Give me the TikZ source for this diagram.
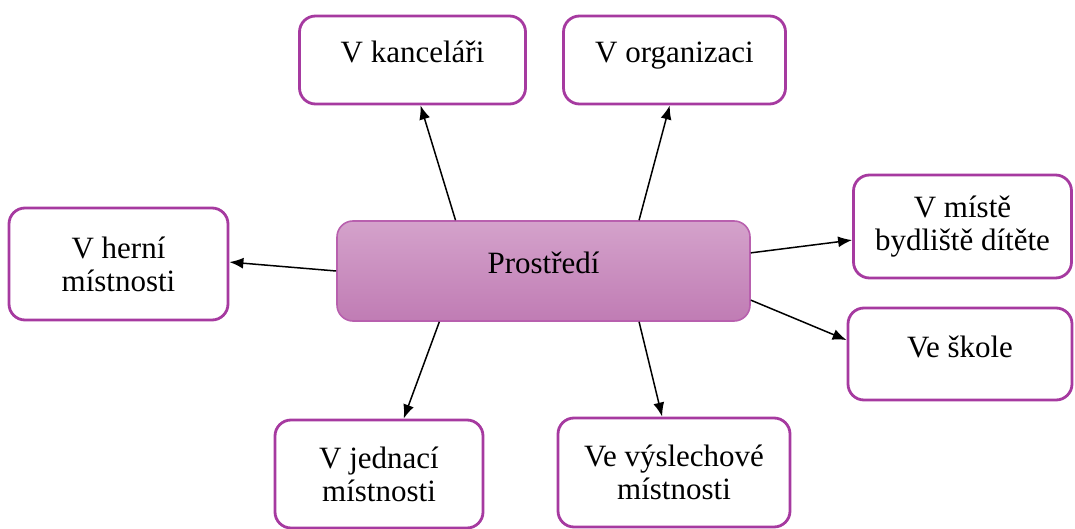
\documentclass[tikz,border=0pt]{standalone}
\usepackage{fontspec}
\setmainfont{Liberation Serif}
\usetikzlibrary{arrows.meta}
\definecolor{boxline}{RGB}{166,58,160}
\definecolor{midline}{RGB}{184,96,174}
\definecolor{midtop}{RGB}{212,162,203}
\definecolor{midbot}{RGB}{192,124,180}
\tikzset{
    place/.style={draw=boxline, line width=1.4pt, fill=white, rounded corners=8pt,
        align=center, inner sep=2pt, font=\fontsize{15.5}{16.5}\selectfont},
    oneline/.style={text height=11pt, text depth=8pt},
    core/.style={draw=midline, line width=0.8pt, rounded corners=8pt,
        top color=midtop, bottom color=midbot, font=\fontsize{15.5}{16.5}\selectfont,
        text height=11pt, text depth=9pt},
    link/.style={-{Latex[length=7pt,width=5.5pt]}, line width=0.75pt}
}
\begin{document}
\begin{tikzpicture}[x=0.5pt,y=-0.5pt]
    \useasboundingbox (0,0) rectangle (1075,529);
    \node[core, minimum width=206.5pt, minimum height=50pt] (prost) at (543.5,271) {Prostředí};
    \node[place, oneline, minimum width=113pt, minimum height=44pt] (kanc) at (412.5,60) {V kanceláři};
    \node[place, oneline, minimum width=111pt, minimum height=44pt] (org) at (674.5,60) {V organizaci};
    \node[place, minimum width=109pt, minimum height=51.5pt] (bydl) at (962.5,226.5) {V místě\\bydliště dítěte};
    \node[place, oneline, minimum width=112pt, minimum height=46pt] (skola) at (960,354) {Ve škole};
    \node[place, minimum width=109.5pt, minimum height=56pt] (herni) at (118.5,264) {V herní\\místnosti};
    \node[place, minimum width=104pt, minimum height=54pt] (jedn) at (379,474) {V jednací\\místnosti};
    \node[place, minimum width=116pt, minimum height=54.5pt] (vysl) at (674,472.5) {Ve výslechové\\místnosti};
    \draw[link] (prost.150.5) -- (kanc.-80.3);
    \draw[link] (prost.28.1) -- (org.264.2);
    \draw[link] (prost.5.8) -- (bydl.187);
    \draw[link] (prost.-8.5) -- (skola.173);
    \draw[link] (prost.west) -- (herni.1.6);
    \draw[link] (prost.206.9) -- (jedn.66.9);
    \draw[link] (prost.-28.6) -- (vysl.102.4);
\end{tikzpicture}
\end{document}
